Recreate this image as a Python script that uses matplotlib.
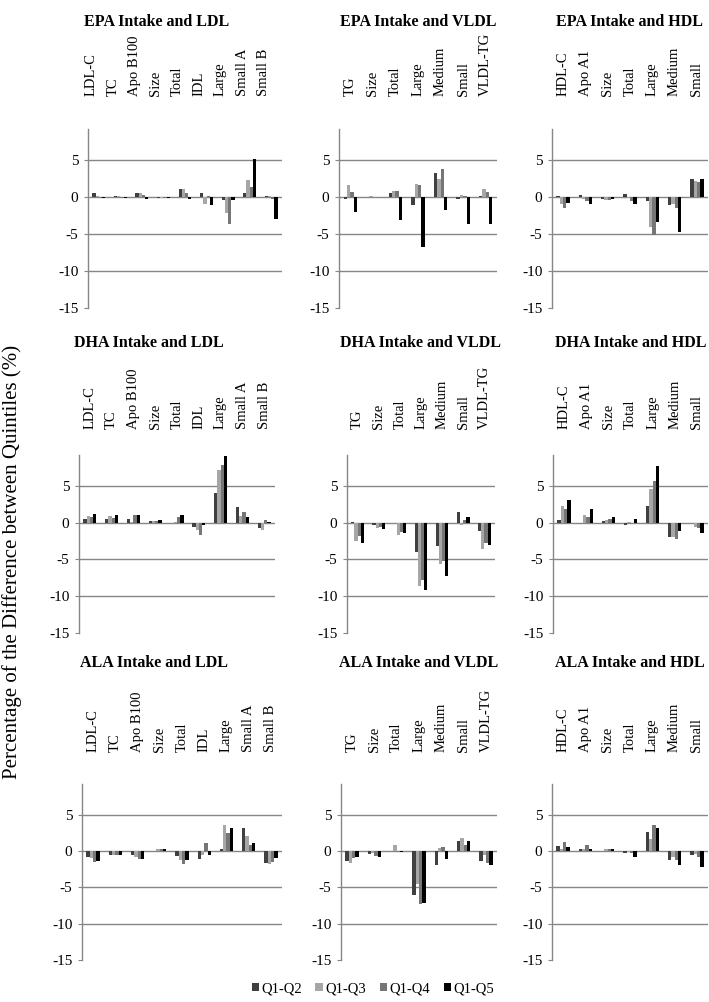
import matplotlib
matplotlib.use("Agg")
import matplotlib.pyplot as plt
import numpy as np
from matplotlib.patches import Patch

plt.rcParams['font.family'] = ['Liberation Serif', 'DejaVu Serif']
plt.rcParams['axes.unicode_minus'] = False

series = ["Q1-Q2", "Q1-Q3", "Q1-Q4", "Q1-Q5"]
colors = ["#404040", "#a6a6a6", "#767676", "#000000"]

ldl_cats = ["LDL-C", "TC", "Apo B100", "Size", "Total", "IDL", "Large", "Small A", "Small B"]
vldl_cats = ["TG", "Size", "Total", "Large", "Medium", "Small", "VLDL-TG"]
hdl_cats = ["HDL-C", "Apo A1", "Size", "Total", "Large", "Medium", "Small"]

# values per category: [Q1-Q2, Q1-Q3, Q1-Q4, Q1-Q5]
epa_ldl = [[0.5, 0.2, -0.1, -0.1], [0.2, 0.1, -0.1, -0.1], [0.5, 0.5, 0.3, -0.2],
           [-0.1, -0.1, -0.1, -0.1], [1.1, 1.1, 0.6, -0.2], [0.5, -1.0, 0.2, -1.1],
           [-0.4, -2.2, -3.6, -0.4], [0.5, 2.3, 1.4, 5.2], [0.2, 0.1, -0.3, -2.9]]
epa_vldl = [[-0.3, 1.6, 0.7, -2.0], [0.0, 0.1, 0.0, 0.0], [0.5, 0.8, 0.8, -3.1],
            [-1.1, 1.7, 1.6, -6.7], [3.2, 2.5, 3.8, -1.7], [-0.3, 0.3, 0.2, -3.7],
            [0.2, 1.1, 0.7, -3.6]]
epa_hdl = [[0.2, -1.0, -1.5, -0.8], [0.3, -0.2, -0.6, -0.9], [-0.2, -0.4, -0.4, -0.3],
           [0.4, -0.1, -0.6, -1.0], [-0.6, -4.0, -5.1, -3.4], [-1.1, -1.0, -1.5, -4.7],
           [2.5, 2.2, 2.1, 2.5]]
dha_ldl = [[0.5, 0.9, 0.8, 1.2], [0.5, 0.9, 0.7, 1.1], [0.5, 0.1, 1.0, 1.1],
           [0.2, 0.2, 0.2, 0.3], [0.0, 0.1, 0.8, 1.1], [-0.6, -1.0, -1.7, -0.3],
           [4.1, 7.2, 7.9, 9.0], [2.1, 0.9, 1.4, 0.8], [-0.7, -1.0, 0.3, 0.1]]
dha_vldl = [[0.1, -2.5, -1.8, -2.7], [-0.3, -0.7, -0.6, -0.8], [0.0, -1.7, -1.3, -1.4],
            [-4.0, -8.6, -7.8, -9.1], [-3.2, -5.6, -5.2, -7.2], [1.4, -0.3, 0.3, 0.8],
            [-1.1, -3.6, -2.7, -3.0]]
dha_hdl = [[0.3, 2.3, 1.8, 3.1], [-0.1, 1.0, 0.8, 1.9], [0.2, 0.4, 0.5, 0.8],
           [-0.3, 0.1, 0.0, 0.5], [2.3, 4.6, 5.7, 7.7], [-2.0, -2.0, -2.2, -1.1],
           [-0.1, -0.6, -0.7, -1.4]]
ala_ldl = [[-0.8, -1.0, -1.5, -1.4], [-0.5, -0.6, -0.6, -0.5], [-0.5, -0.8, -1.1, -1.1],
           [0.0, 0.2, 0.2, 0.2], [-0.7, -1.2, -1.8, -1.3], [-1.1, -0.5, 1.1, -0.5],
           [0.2, 3.5, 2.5, 3.1], [3.2, 2.0, 0.8, 1.1], [-1.6, -1.8, -1.5, -1.0]]
ala_vldl = [[-1.4, -1.7, -1.0, -0.8], [-0.4, -0.3, -0.7, -0.9], [0.0, 0.8, -0.1, -0.2],
            [-6.0, -4.6, -7.3, -7.2], [-2.0, 0.4, 0.5, -1.1], [1.4, 1.8, 0.8, 1.4],
            [-1.4, -0.6, -1.7, -1.9]]
ala_hdl = [[0.7, 0.3, 1.2, 0.5], [0.2, 0.3, 0.8, 0.2], [0.0, 0.2, 0.3, 0.3],
           [-0.3, -0.1, -0.3, -0.8], [2.6, 1.6, 3.5, 3.2], [-1.3, -0.9, -1.2, -1.9],
           [-0.5, -0.4, -0.8, -2.2]]

titles = [["EPA Intake and LDL", "EPA Intake and VLDL", "EPA Intake and HDL"],
          ["DHA Intake and LDL", "DHA Intake and VLDL", "DHA Intake and HDL"],
          ["ALA Intake and LDL", "ALA Intake and VLDL", "ALA Intake and HDL"]]
data = [[epa_ldl, epa_vldl, epa_hdl], [dha_ldl, dha_vldl, dha_hdl], [ala_ldl, ala_vldl, ala_hdl]]
cats = [ldl_cats, vldl_cats, hdl_cats]
yticks = [5, 0, -5, -10, -15]

W, H = 709, 1002
fig = plt.figure(figsize=(W / 100, H / 100), dpi=100)

# pixel layout: (left, right) per panel, (top, bottom) per row
xspans = [[(88, 282), (339, 497), (552, 708)],
          [(79, 275), (347, 495), (553, 708)],
          [(82, 282), (341, 497), (552, 708)]]
yspans = [(129, 308), (455, 633), (784, 960)]
label_bottom = [96, 429, 752]
title_y = [22, 343, 663]
label_off = [[-0.35, 0, 0], [0, 0, 0], [0, 0, 0]]

grid_c = "#868686"
for r in range(3):
    for c in range(3):
        l, rr = xspans[r][c]
        t, b = yspans[r]
        ax = fig.add_axes([l / W, 1 - b / H, (rr - l) / W, (b - t) / H])
        vals = np.array(data[r][c])
        n = len(cats[c])
        x = np.arange(n)
        bw = 0.15
        for k in range(4):
            ax.bar(x + (k - 1.5) * bw, vals[:, k], width=bw, color=colors[k], zorder=3)
        ax.set_xlim(-0.5, n - 0.5)
        ax.set_ylim(-15, 9.2)
        for yv in [5, 0, -5, -10]:
            ax.axhline(yv, color=grid_c, lw=1.0, zorder=1)
        ax.set_yticks(yticks)
        ax.set_yticklabels([str(v) for v in yticks], fontsize=11)
        ax.tick_params(axis='y', length=3, color=grid_c, pad=4)
        ax.set_xticks([])
        for s in ['top', 'right', 'bottom']:
            ax.spines[s].set_visible(False)
        ax.spines['left'].set_color(grid_c)
        ax.spines['left'].set_linewidth(1.0)
        # category labels above the plot
        for i, lab in enumerate(cats[c]):
            xd = i + label_off[r][c]
            xf = (l + (xd + 0.5) / n * (rr - l)) / W
            fig.text(xf, 1 - label_bottom[r] / H, lab, rotation=90, ha='center',
                     va='bottom', fontsize=10.5)
        fig.text((l + rr) / 2 / W + (-0.04 if c == 0 else 0.0), 1 - title_y[r] / H,
                 titles[r][c], ha='center', va='center', fontsize=11.5, fontweight='bold')

fig.text(12 / W, 1 - 562 / H, "Percentage of the Difference between Quintiles (%)",
         rotation=90, ha='center', va='center', fontsize=15)

handles = [Patch(facecolor=colors[k], label=series[k]) for k in range(4)]
fig.legend(handles=handles, loc='center', bbox_to_anchor=(373 / W, 1 - 989 / H), ncol=4,
           frameon=False, fontsize=10.5, handlelength=0.5, handleheight=0.5,
           handletextpad=0.2, columnspacing=0.9)

fig.savefig("out.png", dpi=100)
